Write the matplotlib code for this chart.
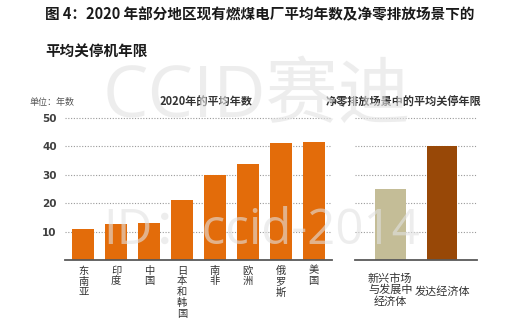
import matplotlib
matplotlib.use("Agg")
import matplotlib.pyplot as plt

plt.rcParams['font.family'] = ['Noto Sans CJK SC', 'DejaVu Sans']

# Average age of existing coal plants in 2020
regions = ["东南亚", "印度", "中国", "日本和韩国", "南非", "欧洲", "俄罗斯", "美国"]
avg_age = [10.9, 12.6, 12.9, 21.1, 30.0, 33.9, 41.1, 41.4]

# Average retirement age under the net-zero scenario
groups = ["新兴市场\n与发展中\n经济体", "发达经济体"]
retire_age = [25.1, 40.0]
group_colors = ["#C4BD97", "#984807"]

yticks = [10, 20, 30, 40, 50]

W, H = 519, 330
fig = plt.figure(figsize=(W / 100, H / 100), dpi=100)


def px_axes(x0, x1, y_bottom, y_top):
    return fig.add_axes([x0 / W, 1 - y_bottom / H, (x1 - x0) / W, (y_bottom - y_top) / H])


ymax = 50.6
top_px = 260 - ymax * 2.84

ax1 = px_axes(65, 332, 260, top_px)
ax2 = px_axes(355, 477, 260, top_px)

for ax in (ax1, ax2):
    ax.set_ylim(0, ymax)
    for s in ax.spines.values():
        s.set_visible(False)
    for v in yticks:
        ax.axhline(v, color="#9a9a9a", lw=0.8, ls=(0, (1, 1.5)), zorder=0)
    ax.axhline(0, color="#595959", lw=1.3, zorder=3, clip_on=False)
    ax.set_xticks([])
    ax.tick_params(axis="y", length=0)

x1 = list(range(len(regions)))
ax1.bar(x1, avg_age, width=0.67, color="#E36C0A", zorder=2)
ax1.set_xlim(-0.556, len(regions) - 1 + 0.556)
ax1.set_yticks(yticks)
ax1.set_yticklabels([str(v) for v in yticks], fontsize=7.5, fontweight="bold",
                    color="#404040", family="DejaVu Sans")
ax1.tick_params(axis="y", pad=6)

for i, name in enumerate(regions):
    ax1.text(i, -2.0, "\n".join(name), ha="center", va="top", fontsize=7.4,
             color="#333333", linespacing=1.1)

x2 = list(range(len(groups)))
ax2.bar(x2, retire_age, width=0.594, color=group_colors, zorder=2)
ax2.set_xlim(-0.683, 1.677)
ax2.set_yticks([])

ax2.text(0, -4.6, groups[0], ha="center", va="top", fontsize=8,
         color="#333333", linespacing=1.12)
ax2.text(1, -11.0, groups[1], ha="center", va="center", fontsize=8,
         color="#333333")

# Titles
fig.text(45 / W, 1 - 14 / H, "图 4：2020 年部分地区现有燃煤电厂平均年数及净零排放场景下的",
         ha="left", va="center", fontsize=10.5, fontweight="bold", color="#1a1a1a")
fig.text(45 / W, 1 - 52 / H, "平均关停机年限",
         ha="left", va="center", fontsize=10.5, fontweight="bold", color="#1a1a1a")

fig.text(30 / W, 1 - 102 / H, "单位：年数", ha="left", va="center", fontsize=6.5,
         color="#555555")
fig.text(206 / W, 1 - 102 / H, "2020年的平均年数", ha="center", va="center",
         fontsize=8, fontweight="bold", color="#333333")
fig.text(404 / W, 1 - 102 / H, "净零排放场景中的平均关停年限", ha="center", va="center",
         fontsize=8, fontweight="bold", color="#333333")

# Watermarks
fig.text(257 / W, 1 - 98 / H, "CCID赛迪", ha="center", va="center", fontsize=52,
         color="#e2e2e2", alpha=0.6, zorder=10, family=["Open Sans", "Noto Sans CJK SC"])
fig.text(262 / W, 1 - 231 / H, "ID：ccid-2014", ha="center", va="center", fontsize=35.5,
         color="#e2e2e2", alpha=0.6, zorder=10, family=["Open Sans", "Noto Sans CJK SC"])

fig.savefig("out.png", dpi=100)
